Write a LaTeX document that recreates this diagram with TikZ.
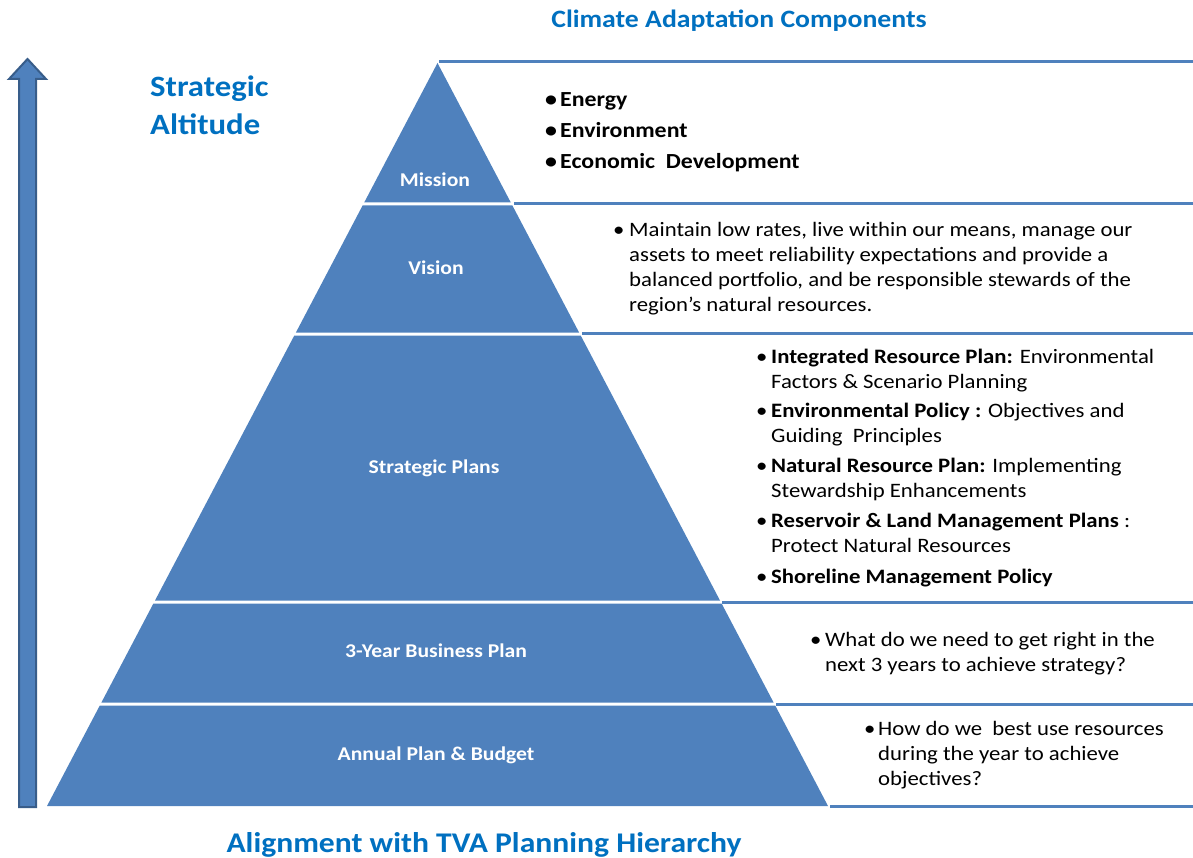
\documentclass[tikz,border=0pt]{standalone}
\usepackage{fontspec}
\setmainfont{Carlito}[FakeStretch=1.11]
\definecolor{tier}{HTML}{4F81BD}
\definecolor{tierdark}{HTML}{385D8A}
\definecolor{titleblue}{HTML}{0070C0}
\begin{document}
\begin{tikzpicture}[x=1pt,y=-1pt,
  tierfill/.style={fill=tier,draw=none},
  rule/.style={draw=tier,line width=3pt},
  tierlabel/.style={anchor=base,text=white,font=\fontsize{19.5}{22}\selectfont\bfseries,inner sep=0},
  heading/.style={anchor=base,text=titleblue,inner sep=0},
  bul/.style={anchor=base west,inner sep=0,align=left,font=\fontsize{20.5}{25}\selectfont},
]
\useasboundingbox (0,0) rectangle (1193,858);
% arrow
\draw[fill=tier,draw=tierdark,line width=2pt,line join=miter]
  (19,807) -- (19,79) -- (9,79) -- (27.5,59) -- (46,79) -- (36,79) -- (36,807) -- cycle;
% pyramid tiers
\fill[tierfill] (437.5,63) -- (510.8,202.5) -- (364.2,202.5) -- cycle;
\fill[tierfill] (362.6,205.5) -- (512.4,205.5) -- (579.1,332.5) -- (295.9,332.5) -- cycle;
\fill[tierfill] (294.3,335.5) -- (580.7,335.5) -- (720,600.5) -- (155,600.5) -- cycle;
\fill[tierfill] (153.4,603.5) -- (721.6,603.5) -- (773.6,702.5) -- (101.4,702.5) -- cycle;
\fill[tierfill] (99.8,705.5) -- (775.2,705.5) -- (828,806) -- (47,806) -- cycle;
% rules to the right
\coordinate (r0a) at (439,61.5);   \coordinate (r0b) at (1193,61.5);
\coordinate (r1a) at (514,204);    \coordinate (r1b) at (1193,204);
\coordinate (r2a) at (582,333.5);  \coordinate (r2b) at (1193,333.5);
\coordinate (r3a) at (722,602);    \coordinate (r3b) at (1193,602);
\coordinate (r4a) at (776,704);    \coordinate (r4b) at (1193,704);
\coordinate (r5a) at (830,806);    \coordinate (r5b) at (1193,806);
\foreach \i in {0,...,5} { \draw[rule] (r\i a) -- (r\i b); }
% headings
\node[heading,font=\fontsize{25}{30}\selectfont\bfseries] (top) at (739,27.3) {Climate Adaptation Components};
\node[heading,font=\fontsize{28.5}{34}\selectfont\bfseries] (bottom) at (484,852) {Alignment with TVA Planning Hierarchy};
\node[heading,anchor=base west,align=left,font=\fontsize{29.5}{38.5}\selectfont\bfseries] (alt) at (150,135) {Strategic\\Altitude};
% tier labels
\node[tierlabel] (mission) at (435,186.5) {Mission};
\node[tierlabel] (vision) at (436,274.5) {Vision};
\node[tierlabel] (strat) at (434,473.5) {Strategic Plans};
\node[tierlabel] (busi) at (436,657.7) {3-Year Business Plan};
\node[tierlabel] (annual) at (436,760.5) {Annual Plan \& Budget};
% mission bullets
\node[bul,font=\fontsize{21.5}{30.75}\selectfont\bfseries] (mb) at (545,168.5)
 {\makebox[15pt][l]{\textbullet}Energy\\\makebox[15pt][l]{\textbullet}Environment\\\makebox[15pt][l]{\textbullet}Economic\ \ Development};
% vision
\node[bul] (vb) at (613,312)
 {\makebox[16pt][l]{\textbullet}Maintain low rates, live within our means, manage our\\
  \hspace*{16pt}assets to meet reliability expectations and provide a\\
  \hspace*{16pt}balanced portfolio, and be responsible stewards of the\\
  \hspace*{16pt}region’s natural resources.};
% strategic plans
\node[bul] (s1) at (756,388)
 {\makebox[15pt][l]{\textbullet}\textbf{Integrated Resource Plan:} Environmental\\\hspace*{15pt}Factors \& Scenario Planning};
\node[bul] (s2) at (756,442.5)
 {\makebox[15pt][l]{\textbullet}\textbf{Environmental Policy :} Objectives and\\\hspace*{15pt}Guiding\ \ Principles};
\node[bul] (s3) at (756,497.5)
 {\makebox[15pt][l]{\textbullet}\textbf{Natural Resource Plan:} Implementing\\\hspace*{15pt}Stewardship Enhancements};
\node[bul] (s4) at (756,552)
 {\makebox[15pt][l]{\textbullet}\textbf{Reservoir \& Land Management Plans} :\\\hspace*{15pt}Protect Natural Resources};
\node[bul] (s5) at (756,583)
 {\makebox[15pt][l]{\textbullet}\textbf{Shoreline Management Policy}};
% 3-year
\node[bul] (bb) at (810,671)
 {\makebox[15pt][l]{\textbullet}What do we need to get right in the\\\hspace*{15pt}next 3 years to achieve strategy?};
% annual
\node[bul] (ab) at (864,785)
 {\makebox[14pt][l]{\textbullet}How do we\ \ best use resources\\\hspace*{14pt}during the year to achieve\\\hspace*{14pt}objectives?};
\end{tikzpicture}
\end{document}
